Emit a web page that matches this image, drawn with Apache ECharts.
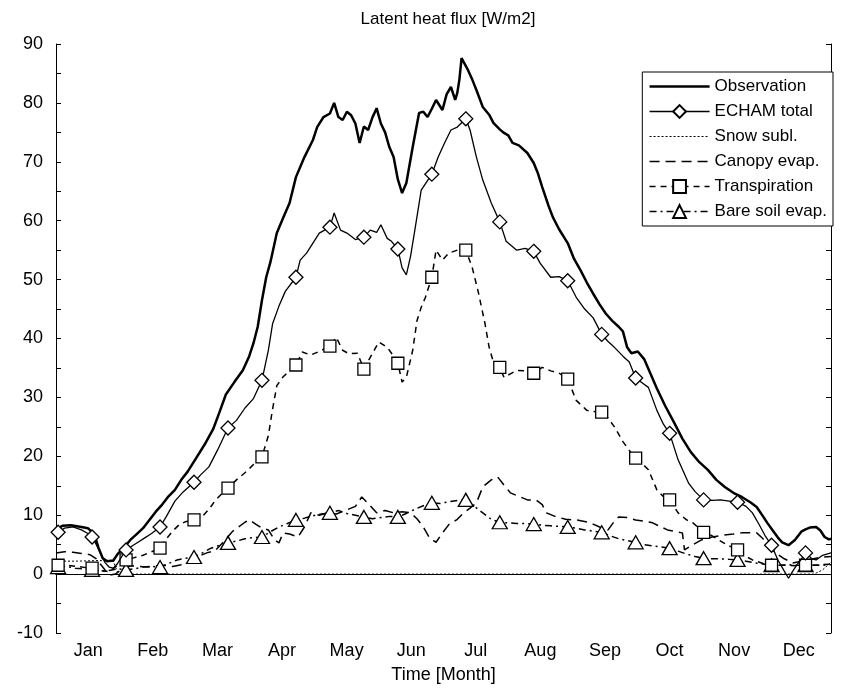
<!DOCTYPE html>
<html><head><meta charset="utf-8">
<script src="https://cdn.jsdelivr.net/npm/echarts@6/dist/echarts.min.js"></script>
<style>html,body{margin:0;padding:0;background:#fff}#c{width:856px;height:694px}</style>
</head><body><div id="c"></div>
<script>
const months = ['Jan','Feb','Mar','Apr','May','Jun','Jul','Aug','Sep','Oct','Nov','Dec'];
const markerDays = [1,17,33,49,65,81,97,113,129,145,161,177,193,209,225,241,257,273,289,305,321,337,353];

const observation = [[0,7.6],[3,8.2],[7,8.3],[12,8.0],[15,7.8],[18,6.8],[20,4.5],[22,2.7],[24,2.2],[27,2.3],[29,3.4],[32,4.5],[35,5.8],[38,6.8],[41,7.8],[44,9.2],[47,10.6],[50,11.8],[53,13.2],[56,14.3],[59,16],[62,17.4],[66,19.7],[70,22],[74,24.6],[77,27.5],[80,30.5],[84,32.6],[88,34.6],[91,37],[93,39.2],[95,42],[97,46.5],[99,50.4],[101,53],[104,57.9],[107,60.5],[110,63],[113,67.4],[117,70.8],[121,73.7],[123,75.9],[126,77.6],[129,78.2],[131,80],[133,77.6],[135,77.1],[137,78.5],[139,77.9],[141,76.5],[143,73.2],[145,76],[147,75.4],[149,77.5],[151,79.1],[153,76.5],[155,75],[157,72.5],[159,70.8],[161,67],[163,64.7],[165,66.4],[168,72.5],[171,78.3],[173,78.5],[175,77.6],[177,79],[179,80.5],[182,78.8],[184,81.5],[186,82.7],[188,80.5],[189,81.7],[190,84],[191,87.6],[194,85.6],[196,84],[198,82.2],[201,79.3],[204,78],[206,76.6],[209,75.5],[211,74.9],[213,74.5],[215,73.2],[218,72.8],[222,71.5],[225,69.8],[227,68],[229,65.7],[232,62.5],[234,60.6],[237,58.5],[241,56.2],[244,53.5],[247,51.6],[250,49.5],[253,47.6],[256,45.8],[259,44.2],[262,43],[265,42],[267,41.2],[269,38.5],[271,37.5],[274,37.8],[277,36.5],[280,34],[283,31.5],[287,28.5],[291,25.8],[295,23],[299,20.7],[303,19],[307,17.7],[311,16],[315,14.8],[319,13.8],[323,13.1],[327,12.2],[330,11.4],[333,9.8],[335,8.7],[338,7.2],[340,6.2],[342,5.4],[345,4.9],[348,5.8],[351,7.2],[353,7.6],[355,7.9],[358,8.0],[360,7.4],[362,6.3],[364,5.9],[365,6.0]];

const echamTotal = [[1,7.1],[4,7.8],[8,8.0],[12,7.5],[15,6.9],[17,6.3],[19,5.0],[21,3.5],[23,2.0],[25,1.2],[27,1.0],[29,1.8],[31,3.0],[33,4.1],[36,4.8],[39,5.5],[42,6.2],[45,6.9],[49,8.0],[52,9.8],[56,12.4],[60,14.0],[65,15.6],[68,16.8],[72,18.2],[76,21.0],[81,24.8],[85,26.1],[89,28.2],[93,29.8],[97,32.9],[100,38],[102,42.5],[105,45.5],[108,48],[113,50.4],[115,53.3],[118,54.5],[121,56.2],[124,57.9],[129,58.9],[131,61.3],[134,58.4],[137,57.9],[141,56.8],[145,57.2],[148,58.4],[151,58],[153,59.3],[156,57],[158,56.5],[161,55.2],[163,52],[165,50.8],[167,54],[169,58.4],[172,65.2],[177,67.9],[180,70.8],[183,73.2],[186,75.4],[189,75.9],[193,77.3],[195,75.4],[198,70.8],[201,66.9],[205,63],[209,59.8],[212,56.5],[217,55],[221,55.3],[225,54.8],[228,52.8],[233,50.4],[237,50.5],[241,49.8],[245,47],[249,45],[253,43.5],[257,40.7],[260,39.5],[263,38.5],[267,37],[270,36],[273,33.3],[276,32.5],[279,31.7],[283,27.8],[286,25.5],[289,23.9],[293,19.4],[298,15.4],[301,14],[305,12.6],[309,12.5],[313,12.6],[317,12.4],[321,12.2],[325,11.5],[328,10.4],[331,8.5],[334,6.5],[337,4.9],[340,2.4],[343,0.5],[345,-0.7],[347,0.5],[349,1.6],[351,2.5],[353,3.6],[356,2.6],[358,2.4],[361,3.2],[365,3.6]];

const snowSubl = [[0,2.2],[10,2.2],[20,2.3],[27,2.2],[29,0.3],[31,0],[100,0],[200,0],[300,0],[357,0],[361,0.7],[365,2.0]];

const canopyEvap = [[0,3.6],[4,3.8],[8,3.7],[12,3.5],[16,3.3],[19,2.6],[22,1.2],[25,-0.2],[28,0.0],[31,0.8],[35,1.4],[39,1.3],[43,1.2],[47,1.4],[51,1.5],[55,1.3],[59,1.6],[63,2.2],[67,3.0],[71,3.6],[75,4.0],[79,5.5],[83,7.2],[86,8.0],[89,8.8],[91,9.2],[94,8.5],[97,7.8],[100,7.5],[103,5.8],[105,5.3],[107,7.0],[110,6.8],[114,6.3],[117,8.0],[120,10.4],[124,10.0],[128,10.4],[132,10.2],[137,10.9],[141,11.5],[144,13.1],[147,12.0],[151,10.4],[155,10.8],[159,10.4],[163,10.6],[167,10.4],[170,9.4],[173,8.0],[176,6.1],[179,5.4],[182,7.0],[185,8.4],[189,9.3],[192,10.4],[195,11.2],[198,12.1],[201,14.8],[205,16.0],[208,16.5],[211,15.1],[214,13.8],[218,13.2],[222,12.6],[226,12.6],[229,11.8],[231,10.4],[235,9.8],[240,9.3],[245,9.2],[251,8.8],[256,8.0],[260,7.5],[263,9.0],[265,9.7],[269,9.6],[273,9.2],[277,9.0],[281,8.7],[285,8.0],[288,7.5],[292,7.2],[295,7.0],[296,4.1],[300,5.0],[304,5.8],[309,6.3],[314,6.6],[319,6.8],[323,7.0],[327,7.0],[330,7.0],[333,6.0],[336,4.6],[339,3.6],[343,2.6],[347,1.9],[351,2.2],[354,2.4],[358,2.7],[361,2.9],[365,3.0]];

const transpiration = [[1,1.5],[5,1.5],[10,1.3],[14,1.1],[17,1.0],[21,0.6],[25,0.4],[29,1.5],[33,2.4],[37,2.8],[41,3.2],[45,3.8],[49,4.4],[52,6],[55,7.3],[58,8.4],[61,8.9],[65,9.2],[69,9.8],[72,11],[75,12.5],[78,13.6],[81,14.6],[85,16],[89,17.2],[93,18.6],[97,19.9],[100,23.5],[102,28],[104,32],[107,33.5],[110,34.5],[113,35.5],[116,37.7],[120,37.2],[124,37.8],[129,38.7],[132,40.2],[135,38],[138,37.4],[142,37.5],[145,34.8],[148,36.8],[152,39.4],[156,38.5],[158,37.5],[161,35.8],[163,32.6],[165,33.4],[168,38],[170,43],[172,45.3],[174,47],[177,50.4],[179,55],[182,53.3],[185,54.5],[189,55],[193,55.0],[196,52.1],[199,47.7],[202,42.6],[204,38.5],[206,36],[209,35.1],[211,33.4],[214,34],[217,34.6],[221,34.5],[225,34.1],[229,35.1],[233,34.5],[237,34.1],[241,33.1],[245,29.5],[250,27.8],[253,27.6],[257,27.5],[260,26.5],[263,25],[267,22.5],[270,21],[273,19.7],[276,18.8],[279,17.7],[283,14.3],[286,13.2],[289,12.6],[293,10.4],[297,9.2],[300,8.7],[305,7.1],[309,6.5],[312,5.8],[317,4.8],[321,4.1],[325,3.0],[328,2.4],[333,1.8],[337,1.5],[341,1.5],[345,1.5],[349,1.4],[353,1.5],[357,1.5],[361,1.6],[365,1.7]];

const bareSoilEvap = [[1,1.2],[5,1.3],[9,1.0],[13,0.9],[17,0.7],[21,0.5],[25,0.6],[29,0.9],[33,0.7],[37,0.9],[41,1.2],[45,1.3],[49,1.2],[53,1.8],[57,2.4],[61,2.7],[65,2.9],[69,3.6],[73,4.4],[77,4.9],[81,5.3],[85,5.6],[89,6.0],[93,6.2],[97,6.3],[101,7.2],[105,8.0],[109,8.6],[113,9.2],[117,9.5],[121,9.9],[125,10.2],[129,10.4],[133,10.8],[137,10.3],[141,10.0],[145,9.7],[149,9.4],[153,9.6],[157,9.8],[161,9.7],[165,10.3],[169,11],[173,11.6],[177,12.1],[181,12.0],[185,12.3],[189,12.5],[193,12.6],[197,11.5],[201,10.4],[205,9.3],[209,8.8],[213,8.7],[217,8.6],[221,8.6],[225,8.5],[229,8.3],[233,8.2],[237,8.1],[241,8.0],[245,7.8],[249,7.5],[253,7.3],[257,7.1],[261,6.5],[265,6.0],[269,5.7],[273,5.4],[277,5.0],[281,4.8],[285,4.6],[289,4.4],[293,3.9],[297,3.4],[301,3.0],[305,2.7],[309,2.6],[313,2.6],[317,2.5],[321,2.4],[325,2.2],[329,1.9],[333,1.7],[337,1.5],[341,1.5],[345,1.6],[349,1.5],[353,1.5],[357,1.5],[361,1.5],[365,1.6]];

const FONT = 'Liberation Sans, Arial, sans-serif';
const chart = echarts.init(document.getElementById('c'), null, {renderer:'canvas'});

function marked(pts){
  return pts.map(p => markerDays.indexOf(p[0]) >= 0 ? {value:p} : {value:p, symbol:'none'});
}
const symStyle = {color:'#fff', borderColor:'#000', borderWidth:1.3};

function lineSeries(name, data, opts){
  return Object.assign({
    name, type:'line', xAxisIndex:2, yAxisIndex:0, data,
    showSymbol:false, symbol:'none', animation:false, silent:true,
    itemStyle:{color:'#000'}
  }, opts);
}

const option = {
  backgroundColor:'#fff',
  animation:false,
  textStyle:{fontFamily:FONT, color:'#000'},
  title:{text:'Latent heat flux [W/m2]', left:443, top:6, textAlign:'center',
    textStyle:{fontFamily:FONT, fontSize:17, fontWeight:'normal', color:'#000'}},
  grid:{left:56, right:25, top:44, bottom:61, containLabel:false},
  legend:{
    orient:'vertical', right:23, top:72,
    backgroundColor:'#fff', borderColor:'#000', borderWidth:1,
    padding:[6,6,6,6], itemWidth:60, itemHeight:16, itemGap:8,
    textStyle:{fontFamily:FONT, fontSize:17, color:'#000'},
    selectedMode:false,
    data:[
      {name:'Observation', itemStyle:{opacity:0}, lineStyle:{width:2.5, type:'solid'}},
      {name:'ECHAM total', lineStyle:{width:1.3, type:'solid'}},
      {name:'Snow subl.', itemStyle:{opacity:0}, lineStyle:{width:1, type:[2,2]}},
      {name:'Canopy evap.', itemStyle:{opacity:0}, lineStyle:{width:1.5, type:[10,6]}},
      {name:'Transpiration', lineStyle:{width:1.5, type:[6,5]}},
      {name:'Bare soil evap.', lineStyle:{width:1.5, type:[7,4,2,4]}}
    ]
  },
  xAxis:[
    {type:'category', data:months, position:'bottom', boundaryGap:true, gridIndex:0,
     axisLine:{lineStyle:{color:'#000', width:1}},
     axisTick:{inside:true, length:6, lineStyle:{color:'#000'}},
     axisLabel:{fontFamily:FONT, fontSize:18, color:'#000', margin:9},
     splitLine:{show:false},
     name:'Time [Month]', nameLocation:'middle', nameGap:33,
     nameTextStyle:{fontFamily:FONT, fontSize:18, color:'#000'}},
    {type:'category', data:months, position:'top', boundaryGap:true, gridIndex:0,
     axisLine:{lineStyle:{color:'#000', width:1}},
     axisTick:{inside:true, length:6, lineStyle:{color:'#000'}},
     axisLabel:{show:false}, splitLine:{show:false}},
    {type:'value', min:0, max:365, show:false, gridIndex:0}
  ],
  yAxis:[
    {type:'value', min:-10, max:90, interval:5, position:'left',
     axisLine:{show:true, lineStyle:{color:'#000', width:1}},
     axisTick:{show:true, inside:true, length:5, lineStyle:{color:'#000'}},
     axisLabel:{fontFamily:FONT, fontSize:18, color:'#000', margin:13,
       formatter: v => (Math.round(v) % 10 === 0 ? String(Math.round(v)) : '')},
     splitLine:{show:false}},
    {type:'value', min:-10, max:90, interval:5, position:'right',
     axisLine:{show:true, lineStyle:{color:'#000', width:1}},
     axisTick:{show:true, inside:true, length:5, lineStyle:{color:'#000'}},
     axisLabel:{show:false}, splitLine:{show:false}}
  ],
  series:[
    lineSeries('Snow subl.', snowSubl, {lineStyle:{color:'#000', width:1, type:[2,2]}, z:2}),
    lineSeries('Canopy evap.', canopyEvap, {lineStyle:{color:'#000', width:1.5, type:[10,6]}, z:2}),
    lineSeries('Observation', observation, {lineStyle:{color:'#000', width:2.5}, z:3}),
    lineSeries('Bare soil evap.', marked(bareSoilEvap), {symbol:'triangle', symbolSize:[15,13], showSymbol:true, showAllSymbol:true,
      itemStyle:symStyle, lineStyle:{color:'#000', width:1.5, type:[7,4,2,4]}, z:4}),
    lineSeries('Transpiration', marked(transpiration), {symbol:'rect', symbolSize:12, showSymbol:true, showAllSymbol:true,
      itemStyle:symStyle, lineStyle:{color:'#000', width:1.5, type:[6,5]}, z:5}),
    lineSeries('ECHAM total', marked(echamTotal), {symbol:'diamond', symbolSize:14, showSymbol:true, showAllSymbol:true,
      itemStyle:symStyle, lineStyle:{color:'#000', width:1.3}, z:6})
  ]
};
chart.setOption(option);
</script></body></html>
